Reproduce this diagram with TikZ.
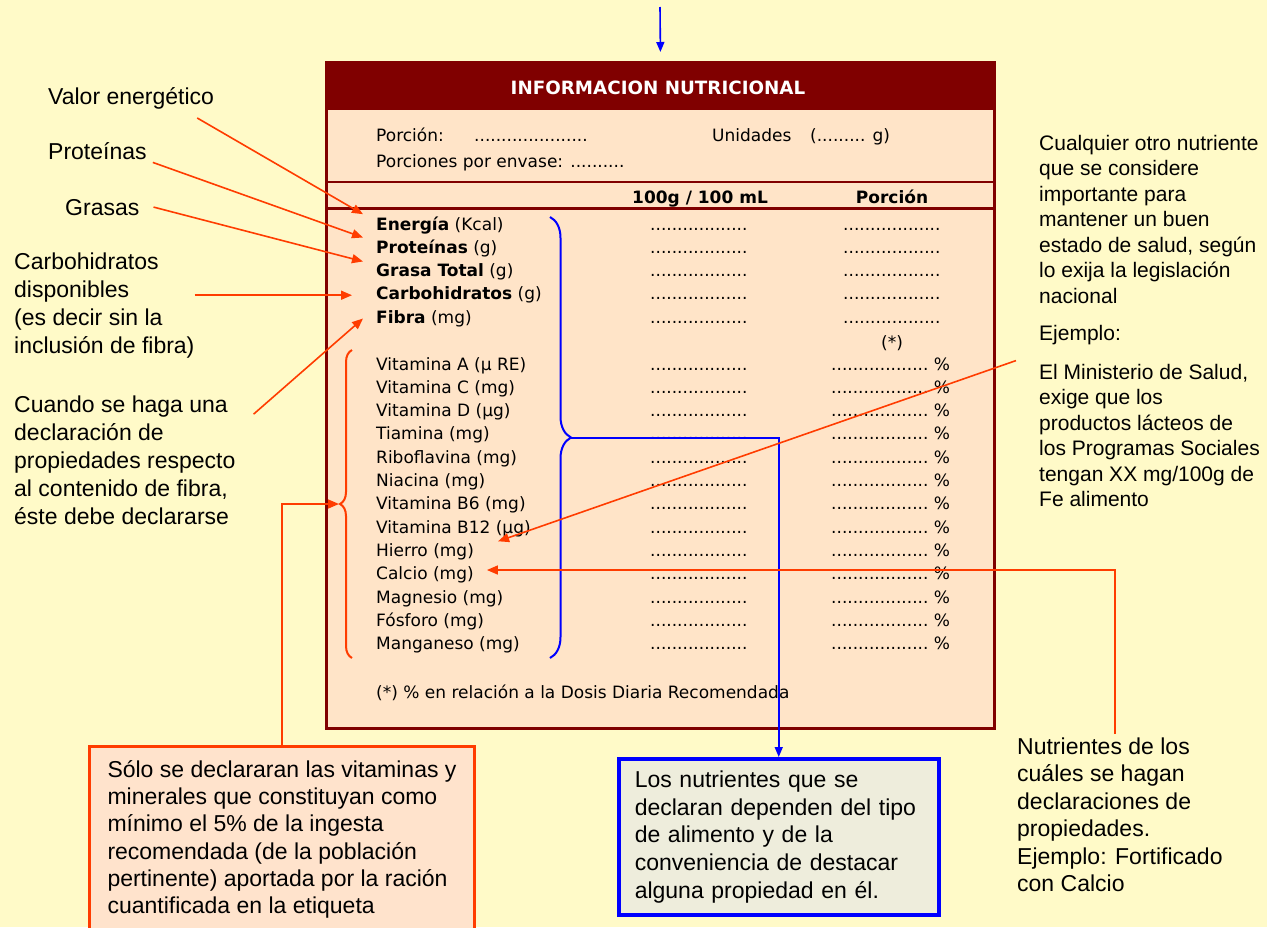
\documentclass[tikz,border=0pt]{standalone}
\usepackage{fontspec}
\setmainfont{Liberation Sans}
\newfontfamily\tablafont{DejaVu Sans}
\usetikzlibrary{arrows.meta}
\usetikzlibrary{decorations.pathreplacing}

\definecolor{fondo}{HTML}{FFFAC8}
\definecolor{durazno}{HTML}{FFE4C8}
\definecolor{granate}{HTML}{800000}
\definecolor{naranja}{HTML}{FF3C00}
\definecolor{azul}{HTML}{0000FF}
\definecolor{rosado}{HTML}{FFE3CC}
\definecolor{gris}{HTML}{EEEDDC}

\newcommand{\puntos}{..................}

% multi-line notes are placed by the baseline of their last line
\tikzset{
  nota/.style={anchor=base west, align=left, inner xsep=0pt, inner ysep=3pt, font=\fontsize{23}{28}\selectfont},
  notachica/.style={nota, font=\fontsize{21}{25.5}\selectfont},
  fila/.style={anchor=base west, inner xsep=13pt, inner ysep=2pt, font=\tablafont\fontsize{17}{20}\selectfont},
  celda/.style={fila, inner sep=0pt},
  flecha/.style={draw=naranja, line width=1.6pt, -{Triangle[length=11pt,width=9pt]}},
  flechaazul/.style={draw=azul, line width=1.6pt, -{Triangle[length=10pt,width=8pt]}},
}

\begin{document}
\begin{tikzpicture}[x=1pt,y=-1pt]
\clip (0,0) rectangle (1267,927);
\fill[fondo] (0,0) rectangle (1267,927);

% la tabla
\node[draw=granate, line width=3pt, fill=durazno, minimum width=668pt, minimum height=666pt, anchor=north west, inner sep=0pt] (tabla) at (325,61) {};
\fill[granate] (325,61) rectangle (993,110);
\draw[granate, line width=2.5pt] (325,182) -- (993,182);
\draw[granate, line width=3pt] (325,208) -- (993,208);

\node[celda, anchor=base, text=white, font=\tablafont\bfseries\fontsize{18.3}{20}\selectfont] (titulo) at (658,94) {INFORMACION NUTRICIONAL};

\node[celda] (porcion) at (376,141.5) {Porción:};
\node[celda] (porcionpuntos) at (474,141.5) {.....................};
\node[celda] (unidades) at (712,141.5) {Unidades};
\node[celda] (gramos) at (810,141.5) {(......... g)};
\node[celda] (envase) at (376,167) {Porciones por envase: ..........};

\node[celda, anchor=base] (col100) at (700,203) {\bfseries 100g / 100 mL};
\node[celda, anchor=base] (colporcion) at (892,203) {\bfseries Porción};

\foreach \nut [count=\i from 0] in {{\textbf{Energía} (Kcal)}, {\textbf{Proteínas} (g)}, {\textbf{Grasa Total} (g)}, {\textbf{Carbohidratos} (g)}, {\textbf{Fibra} (mg)}}
{
\node[fila] (e\i) at (363,230+23.3*\i) {\nut};
\node[celda] (ea\i) at (650,230+23.3*\i) {\puntos};
\node[celda] (eb\i) at (843,230+23.3*\i) {\puntos};
}

\node[celda, anchor=base] (asterisco) at (892,348) {(*)};

\foreach \nut [count=\i from 0] in {Vitamina A (µ RE), Vitamina C (mg), Vitamina D (µg), Tiamina (mg), Riboflavina (mg), Niacina (mg), Vitamina B6 (mg), Vitamina B12 (µg), Hierro (mg), Calcio (mg), Magnesio (mg), Fósforo (mg), Manganeso (mg)}
{
\node[fila] (v\i) at (363,370+23.3*\i) {\nut};
\node[celda] (va\i) at (650,370+23.3*\i) {\puntos};
\node[celda] (vb\i) at (831,370+23.3*\i) {\puntos\ \%};
}

\node[celda] (pie) at (376,698) {(*) \% en relación a la Dosis Diaria Recomendada};

% llaves
\draw[azul, line width=2pt, decorate, decoration={brace, amplitude=21pt}] (550,217) -- (550,658);
\draw[naranja, line width=2pt, decorate, decoration={brace, amplitude=12pt}] (352,658) -- (352,350);
\coordinate (puntaazul) at (571,438);
\coordinate (puntaroja) at (339,504);

% textos de la izquierda
\node[nota] (valor) at (48,104) {Valor energético};
\node[nota] (prot) at (48,159) {Proteínas};
\node[nota] (grasas) at (65,215) {Grasas};
\node[nota] (carbo) at (14,353) {Carbohidratos\\disponibles\\(es decir sin la\\inclusión de fibra)};
\node[nota] (cuando) at (14,524) {Cuando se haga una\\declaración de\\propiedades respecto\\al contenido de fibra,\\éste debe declararse};

% textos de la derecha
\node[notachica] (cualquier) at (1039,303) {Cualquier otro nutriente\\que se considere\\importante para\\mantener un buen\\estado de salud, según\\lo exija la legislación\\nacional};
\node[notachica] (ejemplo) at (1039,340) {Ejemplo:};
\node[notachica] (minis) at (1039,506.5) {El Ministerio de Salud,\\exige que los\\productos lácteos de\\los Programas Sociales\\tengan XX mg/100g de\\Fe alimento};
\node[nota, font=\fontsize{23}{27.5}\selectfont] (nutri) at (1017,891.5) {Nutrientes de los\\cuáles se hagan\\declaraciones de\\propiedades.\\Ejemplo: Fortificado\\con Calcio};

% cajas de abajo
\node[draw=naranja, line width=3pt, fill=rosado, anchor=north west, minimum width=385pt, inner ysep=14pt, align=left, font=\fontsize{23}{27.2}\selectfont] (rojacaja) at (88,745) {Sólo se declararan las vitaminas y\\minerales que constituyan como\\mínimo el 5\% de la ingesta\\recomendada (de la población\\pertinente) aportada por la ración\\cuantificada en la etiqueta};
\node[draw=azul, line width=3.5pt, fill=gris, anchor=north west, text width=288pt, inner xsep=16pt, minimum height=156pt, align=left, font=\fontsize{23}{27.7}\selectfont] (azulcaja) at (617,757) {Los nutrientes que se\\declaran dependen del tipo\\de alimento y de la\\conveniencia de destacar\\alguna propiedad en él.};

% flechas
\coordinate (entrada) at (660,7);
\draw[flechaazul, shorten >=9pt] (entrada) -- (tabla.north);
\draw[flechaazul] (puntaazul) -| (azulcaja.north);
\draw[flecha] (rojacaja.north) |- (puntaroja);

\draw[flecha] ([xshift=-17pt,yshift=-6pt]valor.south east) -- (e0.north west);
\draw[flecha] ([xshift=6pt]prot.south east) -- (e1.north west);
\draw[flecha] ([xshift=14pt]grasas.east) -- (e2.north west);
\draw[flecha, shorten >=11pt] (carbo.east |- e3.west) -- (e3.west);
\draw[flecha] ([xshift=18pt,yshift=-22pt]cuando.north east) -- (e4.west);

\draw[flecha] ([xshift=-23pt]minis.north west) -- ([xshift=11pt]v8.north east);
\draw[flecha] ([xshift=-5pt]nutri.north) |- ([yshift=5pt]v9.east);
\end{tikzpicture}
\end{document}
